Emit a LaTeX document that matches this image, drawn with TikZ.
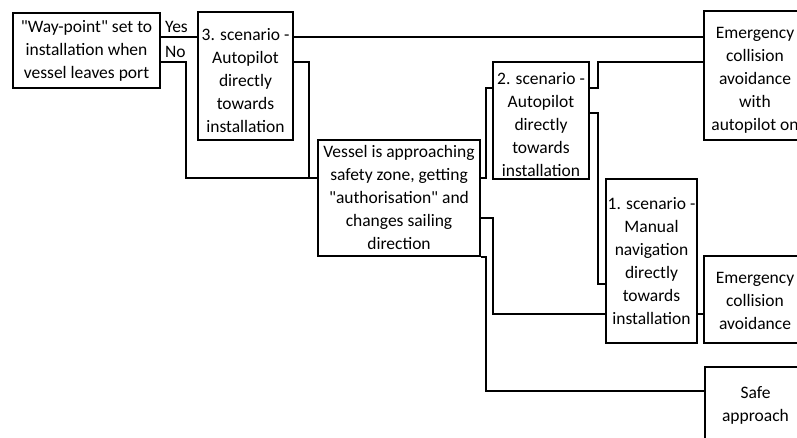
\documentclass[tikz,border=0pt]{standalone}
\usepackage{fontspec}
\setmainfont{Carlito}[Ligatures=TeXOff]
\usetikzlibrary{calc}

\begin{document}
\begin{tikzpicture}[x=1pt,y=-1pt,line width=2pt,
  box/.style={draw,rectangle,inner sep=0pt},
  txt/.style={align=center,inner sep=0pt,font=\fontsize{17.5}{23}\selectfont}]
\useasboundingbox (0,0) rectangle (797,437);
\clip (0,0) rectangle (797,437);

%boxes
\node[box,minimum width=147,minimum height=75] (port) at (86.5,50.5) {};
\node[box,minimum width=95,minimum height=128] (scen3) at (245.5,76) {};
\node[box,minimum width=162,minimum height=116] (zone) at (399,198) {};
\node[box,minimum width=96,minimum height=117] (scen2) at (541,120.5) {};
\node[box,minimum width=91,minimum height=164] (scen1) at (651.5,261) {};
\node[box,minimum width=102,minimum height=129] (emauto) at (755,75.5) {};
\node[box,minimum width=102,minimum height=87] (emman) at (755,299.5) {};
\node[box,minimum width=102,minimum height=73] (safe) at (755.5,403.5) {};

%texts
\node[txt] (port-t) at (port.center) {"Way-point" set to\\installation when\\vessel leaves port};
\node[txt] (scen3-t) at ([yshift=-5pt]scen3.center) {3. scenario -\\Autopilot\\directly\\towards\\installation};
\node[txt] (zone-t) at ([yshift=1pt]zone.center) {Vessel is approaching\\safety zone, getting\\"authorisation" and\\changes sailing\\direction};
\node[txt] (scen2-t) at ([yshift=-4pt]scen2.center) {2. scenario -\\Autopilot\\directly\\towards\\installation};
\node[txt] (scen1-t) at (scen1.center) {1. scenario -\\Manual\\navigation\\directly\\towards\\installation};
\node[txt] (emauto-t) at ([yshift=-5pt]emauto.center) {Emergency\\collision\\avoidance\\with\\autopilot on};
\node[txt] (emman-t) at ([yshift=-1pt]emman.center) {Emergency\\collision\\avoidance};
\node[txt] (safe-t) at ([yshift=-2pt]safe.center) {Safe\\approach};

%yes / no
\node[txt,anchor=base west] (yes) at ([xshift=3pt,yshift=18.5pt]port.east) {Yes};
\node[txt,anchor=base west] (no) at ([xshift=3pt,yshift=-6.5pt]port.east) {No};

%connectors
\draw ([yshift=13.5pt]port.east) -- ([yshift=13.5pt]port.east -| scen3.west); %yes
\draw ([yshift=-11.5pt]port.east) -- ++(25pt,0) |- ([yshift=20pt]zone.west); %no
\draw ([yshift=14pt]scen3.east) -- ++(15pt,0) |- ([yshift=20pt]zone.west);
\draw ([yshift=39pt]scen3.east) -- ([yshift=39pt]scen3.east -| emauto.west);
\draw ([yshift=20pt]zone.east) -- ++(5pt,0) |- ([yshift=32.5pt]scen2.west);
\draw ([yshift=32.5pt]scen2.east) -- ++(8pt,0) |- ([yshift=13.5pt]emauto.west);
\draw ([yshift=7.5pt]scen2.east) -- ++(8pt,0) |- ([yshift=-23pt]scen1.west);
\draw ([yshift=-20pt]zone.east) -- ++(12pt,0) |- ([yshift=-53pt]scen1.west);
\draw ([yshift=-53pt]scen1.east) -- ([yshift=-53pt]scen1.east -| emman.west);
\draw (zone.south east) -- ++(5pt,0) |- ([yshift=12.5pt]safe.west);
\end{tikzpicture}
\end{document}
